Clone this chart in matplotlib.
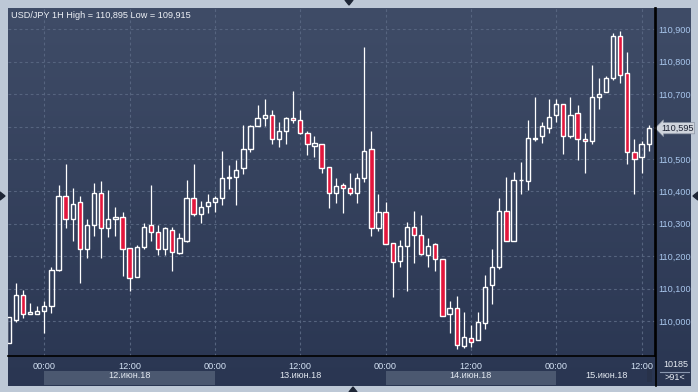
import matplotlib

matplotlib.use("Agg")
import matplotlib.pyplot as plt
import numpy as np
from matplotlib import transforms
from matplotlib.colors import LinearSegmentedColormap
from matplotlib.patches import Polygon

# USD/JPY 1H candles, hour index relative to 12.06.18 00:00
START_HOUR = -5
opens = [
    109.933, 110.004, 110.079, 110.021, 110.022, 110.030, 110.045, 110.157, 110.385, 110.314,
    110.366, 110.221, 110.295, 110.394, 110.286, 110.314, 110.320, 110.224, 110.135, 110.229,
    110.295, 110.274, 110.221, 110.280, 110.211, 110.247, 110.379, 110.329, 110.354, 110.366,
    110.379, 110.440, 110.444, 110.471, 110.530, 110.601, 110.626, 110.635, 110.561, 110.585,
    110.626, 110.619, 110.579, 110.539, 110.545, 110.474, 110.394, 110.419, 110.409, 110.394,
    110.440, 110.530, 110.286, 110.335, 110.240, 110.184, 110.231, 110.289, 110.265, 110.205,
    110.237, 110.190, 110.021, 110.039, 109.922, 109.947, 109.940, 109.995, 110.110, 110.168,
    110.339, 110.246, 110.434, 110.431, 110.562, 110.570, 110.595, 110.635, 110.669, 110.570,
    110.641, 110.561, 110.555, 110.690, 110.706, 110.749, 110.879, 110.765, 110.521, 110.505,
    110.545,
]
highs = [
    110.013, 110.116, 110.096, 110.055, 110.046, 110.062, 110.167, 110.420, 110.485, 110.410,
    110.386, 110.315, 110.426, 110.432, 110.404, 110.352, 110.337, 110.224, 110.235, 110.302,
    110.420, 110.295, 110.289, 110.290, 110.271, 110.435, 110.485, 110.370, 110.392, 110.387,
    110.525, 110.481, 110.497, 110.605, 110.605, 110.667, 110.685, 110.651, 110.614, 110.629,
    110.710, 110.651, 110.585, 110.570, 110.545, 110.474, 110.441, 110.426, 110.456, 110.456,
    110.846, 110.585, 110.391, 110.367, 110.240, 110.250, 110.306, 110.340, 110.327, 110.256,
    110.241, 110.190, 110.063, 110.077, 110.027, 109.987, 110.027, 110.141, 110.222, 110.379,
    110.444, 110.459, 110.490, 110.620, 110.690, 110.613, 110.685, 110.685, 110.669, 110.690,
    110.666, 110.579, 110.789, 110.749, 110.755, 110.888, 110.895, 110.829, 110.561, 110.555,
    110.604,
]
lows = [
    109.933, 109.998, 110.010, 110.021, 110.022, 109.964, 110.026, 110.155, 110.288, 110.248,
    110.118, 110.195, 110.263, 110.195, 110.260, 110.263, 110.140, 110.094, 110.135, 110.223,
    110.248, 110.205, 110.205, 110.155, 110.207, 110.244, 110.325, 110.302, 110.334, 110.337,
    110.359, 110.407, 110.359, 110.455, 110.523, 110.601, 110.603, 110.547, 110.538, 110.547,
    110.610, 110.578, 110.512, 110.507, 110.458, 110.350, 110.365, 110.334, 110.390, 110.365,
    110.430, 110.263, 110.279, 110.237, 110.075, 110.168, 110.094, 110.180, 110.205, 110.168,
    110.155, 110.015, 109.962, 109.915, 109.916, 109.921, 109.940, 109.974, 110.052, 110.160,
    110.246, 110.246, 110.391, 110.403, 110.554, 110.548, 110.579, 110.613, 110.514, 110.564,
    110.496, 110.456, 110.545, 110.653, 110.706, 110.743, 110.734, 110.484, 110.391, 110.458,
    110.524,
]
closes = [
    110.013, 110.079, 110.021, 110.027, 110.030, 110.045, 110.157, 110.385, 110.314, 110.361,
    110.221, 110.295, 110.394, 110.286, 110.314, 110.320, 110.221, 110.132, 110.229, 110.289,
    110.274, 110.221, 110.286, 110.214, 110.255, 110.379, 110.329, 110.352, 110.367, 110.379,
    110.440, 110.444, 110.465, 110.530, 110.601, 110.626, 110.635, 110.561, 110.585, 110.626,
    110.619, 110.579, 110.545, 110.548, 110.471, 110.394, 110.417, 110.410, 110.394, 110.440,
    110.524, 110.286, 110.335, 110.237, 110.181, 110.231, 110.289, 110.265, 110.208, 110.231,
    110.190, 110.015, 110.039, 109.925, 109.950, 109.934, 109.996, 110.104, 110.166, 110.339,
    110.246, 110.434, 110.435, 110.564, 110.564, 110.601, 110.629, 110.669, 110.570, 110.635,
    110.561, 110.555, 110.690, 110.700, 110.749, 110.879, 110.758, 110.521, 110.499, 110.545,
    110.595,
]
price_ticks = [110.0, 110.1, 110.2, 110.3, 110.4, 110.5, 110.6, 110.7, 110.8, 110.9]
time_ticks = [0, 12, 24, 36, 48, 60, 72, 84]
time_labels = ["00:00", "12:00"] * 4
date_labels = ["12.июн.18", "13.июн.18", "14.июн.18", "15.июн.18"]
date_pos = [12, 36, 60, 79.1]  # last one pushed left to stay inside the panel
title = "USD/JPY 1H High = 110,895 Low = 109,915"
last_price = closes[-1]

W, H = 698, 392
RED = "#e3163c"
GRID = "#56647f"
plt.rcParams["font.family"] = ["Liberation Sans", "DejaVu Sans"]


def rect(x0, y0, x1, y1):
    # pixel box (top-left origin) -> figure fraction [l, b, w, h]
    return [x0 / W, 1 - y1 / H, (x1 - x0) / W, (y1 - y0) / H]


fig = plt.figure(figsize=(W / 100, H / 100), dpi=100)
fig.patch.set_facecolor("#bdc8d6")

grad = LinearSegmentedColormap.from_list("bg", ["#2a3652", "#3f4c67"])
g = np.linspace(0, 1, 256).reshape(-1, 1)

# background panel behind plot + right scale
ax_bg = fig.add_axes(rect(8, 8, 691, 386), zorder=0)
ax_bg.imshow(g, cmap=grad, origin="lower", aspect="auto", extent=[0, 1, 0, 1])
ax_bg.set_axis_off()

# bottom time axis panel
ax_b = fig.add_axes(rect(8, 356, 655, 386), zorder=0.5)
ax_b.set_facecolor("#3a4660")
ax_b.set_xlim(START_HOUR - 0.105, 85.89)
ax_b.set_ylim(0, 1)
for d0 in (0, 48):
    ax_b.axvspan(d0, d0 + 24, ymin=0.05, ymax=0.5, color="#4b5870", lw=0)
ax_b.axvspan(84.8, 85.5, ymin=0.12, ymax=0.8, color="#28324a", lw=0)
ax_b.set_axis_off()

# right bottom info panel
ax_i = fig.add_axes(rect(655, 356, 691, 386), zorder=0.5)
ax_i.set_facecolor("#3a4660")
ax_i.set_xlim(0, 1)
ax_i.set_ylim(0, 1)
ax_i.plot([0.15, 0.95], [0.48, 0.48], color="#8a98b0", lw=0.8)
ax_i.text(0.58, 0.73, "10185", ha="center", va="center", color="#e6ebf2", fontsize=6.5)
ax_i.text(0.56, 0.27, ">91<", ha="center", va="center", color="#e6ebf2", fontsize=6.5)
ax_i.set_axis_off()

# main candle axes
ax = fig.add_axes(rect(8, 8, 655, 356), zorder=1)
ax.set_facecolor("none")
hours = np.arange(START_HOUR, START_HOUR + len(closes))
o = np.array(opens)
c = np.array(closes)
hi = np.array(highs)
lo = np.array(lows)
top = np.maximum(o, c)
bot = np.minimum(o, c)
up = c >= o

ax.vlines(hours, top, hi, color="white", lw=0.9, zorder=3)
ax.vlines(hours, lo, bot, color="white", lw=0.9, zorder=3)
ax.bar(hours[up], (top - bot)[up], bottom=bot[up], width=0.6,
       facecolor="none", edgecolor="white", lw=1.0, zorder=4)
ax.bar(hours[~up], (top - bot)[~up], bottom=bot[~up], width=0.6,
       facecolor=RED, edgecolor="white", lw=1.0, zorder=4)

ax.set_xlim(START_HOUR - 0.105, 85.89)
ax.set_ylim(109.892, 110.966)
ax.set_yticks(price_ticks)
# the 110,600 label sits under the current-price marker
ax.set_yticklabels(["" if abs(v - 110.6) < 1e-9 else f"{v:.3f}".replace(".", ",")
                    for v in price_ticks])
ax.yaxis.tick_right()
ax.set_xticks(time_ticks)
ax.set_xticklabels(time_labels)
ax.tick_params(axis="y", length=0, pad=2.2, labelsize=6.6, labelcolor="#a8c6ec")
ax.tick_params(axis="x", length=0, pad=4, labelsize=6.6, labelcolor="#d4e2f4")
ax.grid(True, color=GRID, lw=0.8, ls=(0, (2.5, 2.5)))
ax.set_axisbelow(True)
for side in ("left", "top"):
    ax.spines[side].set_visible(False)
for side in ("right", "bottom"):
    ax.spines[side].set_color("black")
    ax.spines[side].set_linewidth(1.2)

ax.text(0.004, 0.979, title, transform=ax.transAxes, ha="left", va="center",
        color="#eef1f6", fontsize=6.6)

# date labels under the 12:00 ticks
tr = transforms.blended_transform_factory(ax.transData, fig.transFigure)
for x, lab in zip(date_pos, date_labels):
    ax.text(x, 1 - 376 / H, lab, transform=tr, ha="center", va="center",
            color="#e2e8f0", fontsize=6.6, clip_on=False)

# current price marker
ax.annotate(f"{last_price:.3f}".replace(".", ","), xy=(1.0, last_price),
            xycoords=("axes fraction", "data"), xytext=(16, 0),
            textcoords="offset points", ha="center", va="center",
            fontsize=6.6, color="#1c2233", annotation_clip=False, zorder=6,
            bbox=dict(boxstyle="larrow,pad=0.12", fc="#cfd4dc", ec="#8a93a3", lw=0.5))

# separator line right of the plot across full height
fig.add_artist(plt.Line2D([655.5 / W, 655.5 / W], [1 - 386 / H, 1 - 8 / H],
                          color="black", lw=1.2, zorder=5))

# small navigation arrows on the frame
tri = [
    [(345, 0), (353, 0), (349, 5)],
    [(349, 392), (357, 392), (353, 387)],
    [(0, 192), (0, 200), (5, 196)],
    [(698, 192), (698, 200), (693, 196)],
]
for pts in tri:
    fig.add_artist(Polygon([(x / W, 1 - y / H) for x, y in pts], closed=True,
                           transform=fig.transFigure, color="#1e2636", zorder=6))

fig.savefig("out.png", dpi=100, facecolor=fig.get_facecolor())
plt.close(fig)
